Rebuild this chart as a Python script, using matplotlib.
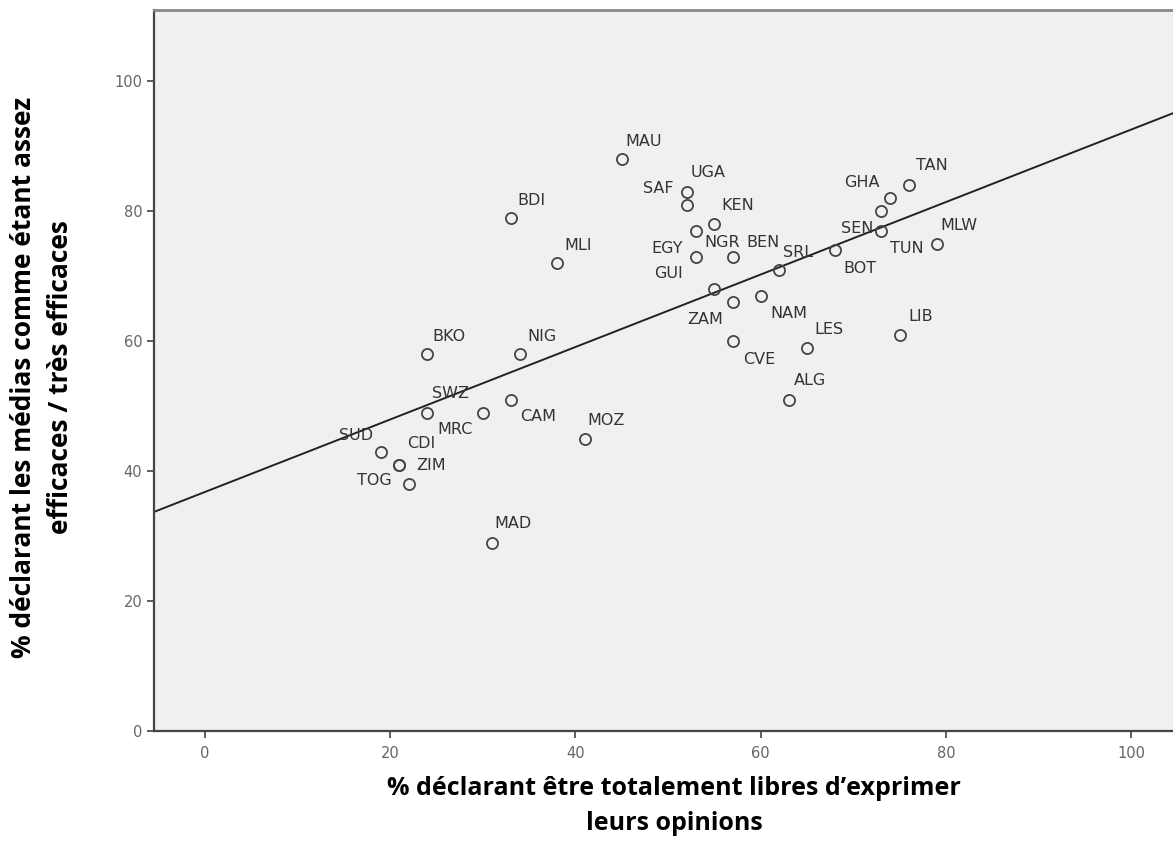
import numpy as np
import matplotlib.pyplot as plt

# values
countries = ["MAU", "BDI", "MLI", "UGA", "SAF", "KEN", "NGR", "EGY", "BEN", "GUI",
             "SRL", "BOT", "ZAM", "NAM", "CVE", "LES", "LIB", "ALG", "TAN", "GHA",
             "SEN", "TUN", "MLW", "BKO", "NIG", "SWZ", "MRC", "CAM", "MOZ", "SUD",
             "CDI", "ZIM", "TOG", "MAD"]
free_speech = [45, 33, 38, 52, 52, 55, 53, 53, 57, 55,
               62, 68, 57, 60, 57, 65, 75, 63, 76, 74,
               73, 73, 79, 24, 34, 24, 30, 33, 41, 19,
               21, 21, 22, 31]
media_effective = [88, 79, 72, 83, 81, 78, 77, 73, 73, 68,
                   71, 74, 66, 67, 60, 59, 61, 51, 84, 82,
                   80, 77, 75, 58, 58, 49, 49, 51, 45, 43,
                   41, 41, 38, 29]

# fit line as drawn in the reference
fit_intercept = 36.8
fit_slope = 0.558

# label placement (pixels, relative to point)
label_offsets = {
    "MAU": (21.6, 18.3), "BDI": (21.1, 17.5), "MLI": (20.8, 18), "UGA": (21.8, 19.8),
    "SAF": (-28.2, 16.2), "KEN": (23, 19), "NGR": (25.9, -11.2), "EGY": (-29.1, 8.2),
    "BEN": (30.5, 14.8), "GUI": (-46, 16.3), "SRL": (19.2, 17.8), "BOT": (25.3, -18.3),
    "ZAM": (-27.8, -17.3), "NAM": (27.7, -17.2), "CVE": (26.2, -18.3), "LES": (21.4, 18.2),
    "LIB": (20.5, 18.5), "ALG": (21.8, 19.5), "TAN": (22.9, 20), "GHA": (-28.5, 16.3),
    "SEN": (-24.3, -17.3), "TUN": (25.7, -17.8), "MLW": (21.8, 18.5), "BKO": (21.8, 18),
    "NIG": (21.9, 18), "SWZ": (22.8, 19.2), "MRC": (-27.8, -16.8), "CAM": (27.7, -17.2),
    "MOZ": (21.3, 18.5), "SUD": (-25, 16.5), "CDI": (22.2, 21.2), "ZIM": (31.2, -0.5),
    "TOG": (-34.7, 3.3), "MAD": (21.2, 19.2),
}

W, H = 1173, 852
fig = plt.figure(figsize=(W / 100, H / 100), dpi=100)
ax = fig.add_axes([154 / W, 1 - 731 / H, 1 - 154 / W, (731 - 10) / H])
ax.set_facecolor("#f0f0f0")
ax.set_xlim(-5.5, 104.5)
ax.set_ylim(0, 111)

xs = np.array([-5.5, 104.5])
ax.plot(xs, fit_intercept + fit_slope * xs, color="#222222", lw=1.4, zorder=2)

ax.plot(free_speech, media_effective, "o", ms=8, mfc="none", mec="#444444",
        mew=1.3, zorder=3)

for name, x, y in zip(countries, free_speech, media_effective):
    dx, dy = label_offsets[name]
    ax.annotate(name, (x, y), xytext=(dx * 0.72, dy * 0.72), textcoords="offset points",
                ha="center", va="center", fontsize=11.5, color="#333333",
                family="DejaVu Sans", zorder=4)

ax.set_xticks([0, 20, 40, 60, 80, 100])
ax.set_yticks([0, 20, 40, 60, 80, 100])
ax.tick_params(direction="out", length=5, width=1.2, color="#444444",
               labelcolor="#666666", labelsize=10.5)
ax.tick_params(axis="x", pad=6)
for s in ["left", "bottom"]:
    ax.spines[s].set_color("#444444")
    ax.spines[s].set_linewidth(1.6)
ax.spines["top"].set_color("#888888")
ax.spines["top"].set_linewidth(2)
ax.spines["right"].set_visible(False)

fig.text(674 / W, 1 - 806 / H,
         "% déclarant être totalement libres d\u2019exprimer\nleurs opinions",
         ha="center", va="center", fontsize=18, fontweight="bold",
         family="Open Sans", linespacing=1.5)
fig.text(42 / W, 1 - 377 / H,
         "% déclarant les médias comme étant assez\nefficaces / très efficaces",
         ha="center", va="center", rotation=90, fontsize=19, fontweight="bold",
         family="Open Sans", linespacing=1.5)

fig.savefig("out.png", dpi=100)
